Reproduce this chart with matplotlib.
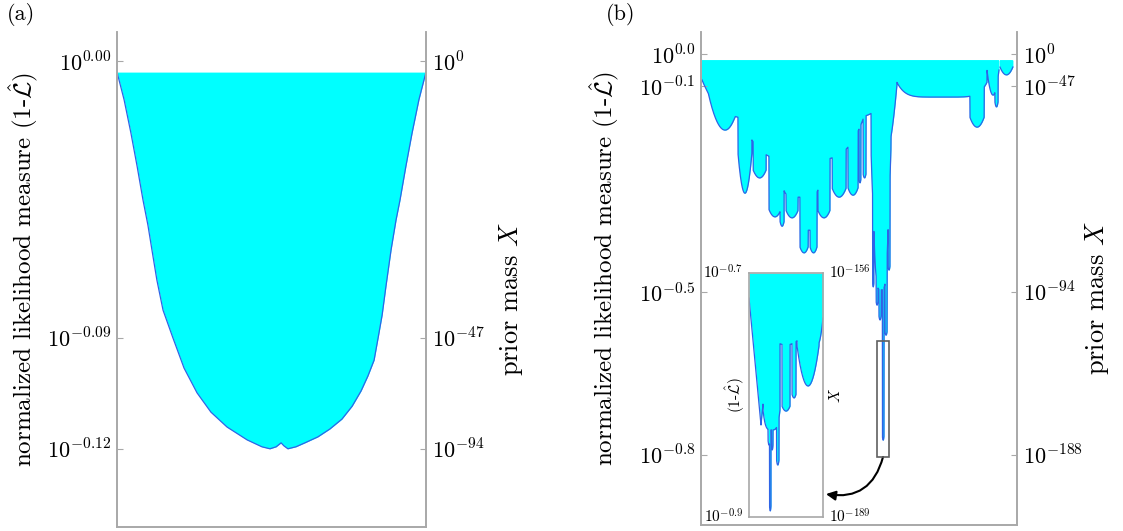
import numpy as np
import matplotlib
matplotlib.use("Agg")
import matplotlib.pyplot as plt
from matplotlib.patches import Rectangle

plt.rcParams['font.family'] = 'serif'
plt.rcParams['font.serif'] = ['cmr10']
plt.rcParams['mathtext.fontset'] = 'cm'
plt.rcParams['axes.unicode_minus'] = False

CYAN = '#00ffff'
EDGE = '#2f64e6'
SPINE = '#a8a8a8'

# ---- panel (a): outline of the single basin (x = % of prior mass, depth = % of axis)
a_top = 8.1
a_x = [0, 2.3, 4.5, 6.5, 8.4, 10.0, 11.3, 12.9, 14.9, 18.1, 21.7, 25.9, 30.4, 35.6,
       42.1, 46.9, 49.5, 51.5, 53.1, 54.0, 55.3, 57.9, 60.8, 65.0, 68.9, 72.8, 76.1,
       79.0, 81.2, 83.2, 84.5, 85.8, 87.1, 88.7, 90.3, 91.6, 93.5, 95.5, 97.7, 100]
a_depth = [8.1, 13.7, 20.4, 27.1, 33.9, 39.0, 44.0, 50.1, 56.2, 61.8, 67.9, 72.9, 76.8,
           79.8, 82.4, 83.8, 84.2, 83.8, 83.0, 83.6, 84.2, 83.8, 83.0, 81.8, 80.2, 78.2,
           75.6, 72.5, 69.5, 66.3, 61.8, 57.2, 51.1, 44.0, 38.0, 33.9, 27.1, 20.4, 13.7, 8.1]
a_ticks = [5.9, 61.8, 84.2]
a_left_labels = [r'$10^{0.00}$', r'$10^{-0.09}$', r'$10^{-0.12}$']
a_right_labels = [r'$10^{0}$', r'$10^{-47}$', r'$10^{-94}$']

# ---- panel (b): basins (lobes) hanging from the top level
b_top = 5.7
b_left = [0.3, 0.3, 11.1, 11.7, 16.5, 21.5, 25.0, 25.9, 26.9, 31.3, 31.3, 34.5, 37.0,
          41.5, 46.5, 50.0, 51.3,
          53.5, 53.8, 54.7, 54.3, 55.4, 56.3, 57.4, 58.2, 59.2,
          62.0, 85.1, 90.5, 93.0, 94.6]
b_right = [62.0, 14.9, 53.2, 16.1, 20.6, 25.3, 26.3, 37.3, 30.7, 36.7, 33.9, 36.7, 40.8,
           45.9, 49.7, 50.6, 52.2,
           62.0, 60.1, 59.2, 54.7, 56.0, 57.0, 57.9, 58.9, 59.8,
           90.5, 89.6, 94.3, 94.0, 98.7]
b_bottom = [17.8, 19.9, 26.0, 32.7, 29.6, 37.5, 39.4, 33.5, 37.7, 40.2, 44.8, 44.8, 37.7,
            33.5, 33.1, 30.6, 29.6,
            26.0, 42.2, 52.3, 51.7, 55.4, 58.4, 82.8, 61.5, 48.3,
            13.2, 19.3, 12.8, 15.2, 8.7]
b_round = [8.1, 14.2, 12.2, 8.1, 1.6, 1.5, 1.0, 2.0, 1.5, 1.5, 1.2, 1.2, 1.5,
           1.8, 1.5, 0.8, 0.8,
           15.2, 18.3, 12.2, 0.8, 0.8, 0.8, 0.8, 0.8, 0.8,
           3.0, 2.0, 5.1, 1.0, 1.6]
b_shape = [6, 2, 4, 2, 2, 2, 2, 6, 2, 4, 2, 2, 2,
           2, 2, 2, 2,
           2, 4, 4, 2, 2, 2, 2, 2, 2,
           6, 2, 2, 2, 2]
b_ticks = [4.5, 11.0, 52.7, 85.8]
b_left_labels = [r'$10^{0.0}$', r'$10^{-0.1}$', r'$10^{-0.5}$', r'$10^{-0.8}$']
b_right_labels = [r'$10^{0}$', r'$10^{-47}$', r'$10^{-94}$', r'$10^{-188}$']
zoom_box = (55.7, 59.5, 62.7, 86.2)  # x0, x1, depth0, depth1 of the zoomed region

# ---- inset: zoom of the deep branch
i_top = 0.0
i_left = [0.0, 0.0, 18.9, 25.7, 27.7, 30.4, 37.2, 44.6, 58.1, 64.9, 85.0]
i_right = [100.0, 32.4, 41.9, 28.4, 29.7, 32.4, 40.5, 55.4, 63.5, 94.6, 100.0]
i_bottom = [29.5, 62.3, 64.3, 70.5, 97.5, 72.5, 78.7, 56.6, 51.2, 46.3, 29.5]
i_round = [19.3, 52.0, 8.2, 2.0, 2.0, 2.0, 2.0, 2.0, 1.5, 16.4, 11.0]
i_shape = [2, 1, 4, 2, 2, 2, 2, 2, 2, 2, 2]


def outline(x, top, left, right, bottom, rnd, shape):
    d = np.full_like(x, top)
    for l, r, b, R, k in zip(left, right, bottom, rnd, shape):
        c = (l + r) / 2
        hw = (r - l) / 2
        u = (x - c) / hw
        m = np.abs(u) <= 1
        d[m] = np.maximum(d[m], b - R * np.abs(u[m]) ** k)
    return d


def style(ax):
    for s in ['left', 'right', 'bottom', 'top']:
        ax.spines[s].set_color(SPINE)
        ax.spines[s].set_linewidth(1.2)
    ax.spines['top'].set_visible(False)
    ax.set_xticks([])
    ax.tick_params(axis='y', direction='in', length=4, color=SPINE, labelsize=16, pad=4)


def panel(rect, x, top, depth, ticks, left_labels, right_labels, tag, tag_x, lab_x, rlab_x):
    ax = fig.add_axes(rect)
    ax.fill_between(x, top, depth, color=CYAN, lw=0)
    ax.plot(x, depth, color=EDGE, lw=0.9)
    ax.set_xlim(0, 100)
    ax.set_ylim(100, 0)
    style(ax)
    ax.set_yticks(ticks)
    ax.set_yticklabels(left_labels)
    ax.set_ylabel(r'normalized likelihood measure (1-$\hat{\mathcal{L}}$)', fontsize=18)
    ax.yaxis.set_label_coords(lab_x, 0.52)
    ax2 = ax.twinx()
    ax2.set_ylim(100, 0)
    style(ax2)
    ax2.set_yticks(ticks)
    ax2.set_yticklabels(right_labels)
    ax2.set_ylabel(r'prior mass $X$', fontsize=19)
    ax2.yaxis.set_label_coords(rlab_x, 0.46)
    fig.text(tag_x, 1 - 15 / 531, tag, fontsize=16, va='center')
    return ax


fig = plt.figure(figsize=(11.23, 5.31), dpi=100)

# panel (a)
ax_a = panel([117 / 1123, 1 - 527 / 531, 309 / 1123, 495 / 531], a_x, a_top, a_depth,
             a_ticks, a_left_labels, a_right_labels, '(a)', 7 / 1123, -0.245, 1.23)

# panel (b)
xb = np.linspace(0, 100, 6001)
db = outline(xb, b_top, b_left, b_right, b_bottom, b_round, b_shape)
db_line = np.where(db > b_top + 0.05, db, np.nan)
ax_b = panel([701 / 1123, 1 - 525 / 531, 316 / 1123, 493 / 531], xb, b_top, db_line,
             b_ticks, b_left_labels, b_right_labels, '(b)', 606 / 1123, -0.25, 1.21)
ax_b.fill_between(xb, b_top, db, color=CYAN, lw=0)

x0, x1, d0, d1 = zoom_box
ax_b.add_patch(Rectangle((x0, d0), x1 - x0, d1 - d0, fill=False, ec='#606060', lw=1.2, zorder=5))

# inset
ax_in = fig.add_axes([749 / 1123, 1 - 517 / 531, 74 / 1123, 244 / 531])
xi = np.linspace(0, 100, 3001)
di = outline(xi, i_top, i_left, i_right, i_bottom, i_round, i_shape)
ax_in.fill_between(xi, i_top, di, color=CYAN, lw=0)
ax_in.plot(xi, np.where(di > i_top + 0.05, di, np.nan), color=EDGE, lw=0.9)
ax_in.set_xlim(0, 100)
ax_in.set_ylim(100, 0)
for s in ax_in.spines.values():
    s.set_color(SPINE)
    s.set_linewidth(1.2)
ax_in.set_xticks([])
ax_in.set_yticks([])
tkw = dict(fontsize=11, transform=ax_in.transAxes, va='center')
ax_in.text(-0.08, 1.0, r'$10^{-0.7}$', ha='right', **tkw)
ax_in.text(-0.08, 0.0, r'$10^{-0.9}$', ha='right', **tkw)
ax_in.text(1.08, 1.0, r'$10^{-156}$', ha='left', **tkw)
ax_in.text(1.08, 0.0, r'$10^{-189}$', ha='left', **tkw)
ax_in.text(-0.19, 0.5, r'(1-$\hat{\mathcal{L}}$)', rotation=90, ha='center', **tkw)
ax_in.text(1.17, 0.5, r'$X$', rotation=90, ha='center', **tkw)

ax_b.annotate('', xy=(1.04, 0.094), xycoords=ax_in.transAxes,
              xytext=((x0 + x1) / 2, d1), textcoords='data',
              arrowprops=dict(arrowstyle='-|>', color='black', lw=1.5, mutation_scale=14,
                              connectionstyle='arc3,rad=-0.45', shrinkA=0, shrinkB=0),
              annotation_clip=False)

fig.savefig('out.png', dpi=100)
